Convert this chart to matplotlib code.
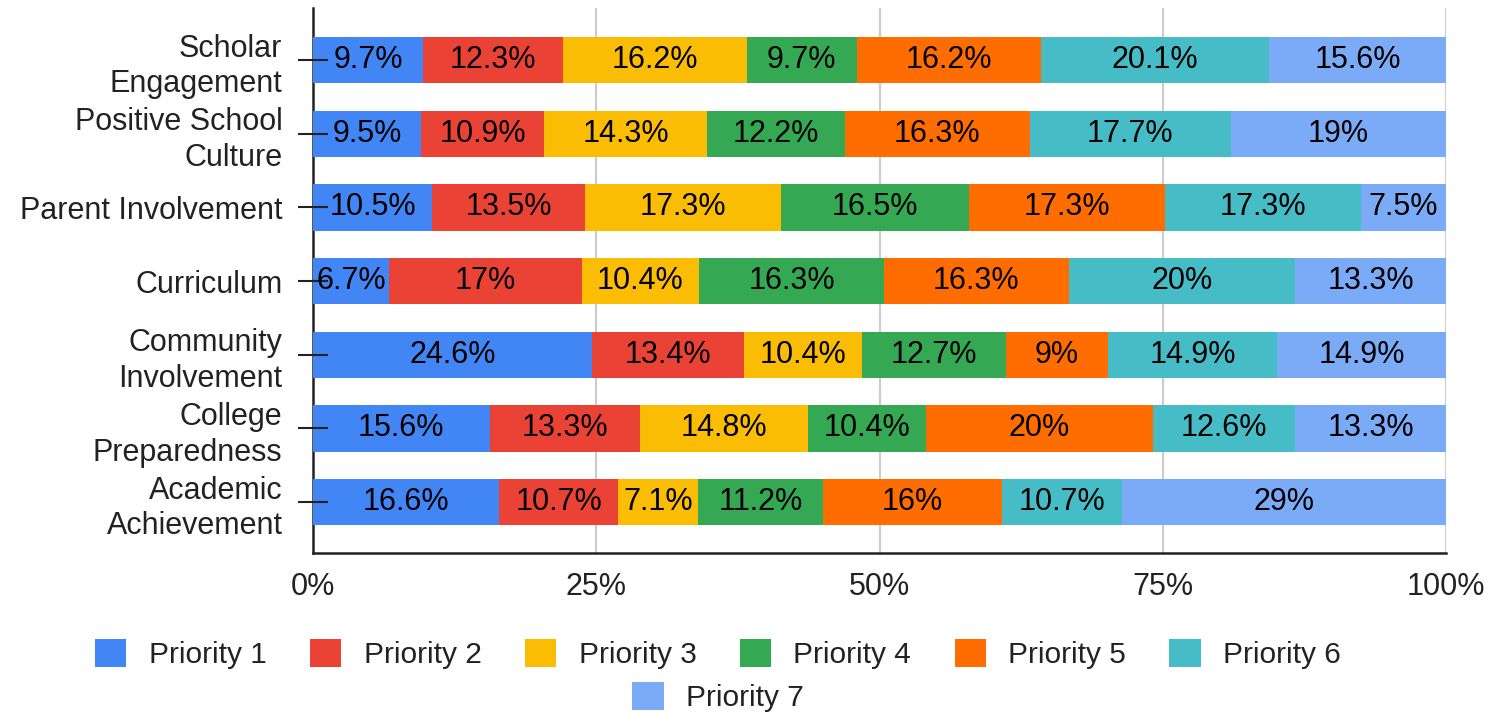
import matplotlib
matplotlib.use("Agg")
import matplotlib.pyplot as plt
import numpy as np

plt.rcParams['font.family'] = ['Liberation Sans', 'DejaVu Sans']

categories = ["Scholar\nEngagement", "Positive School\nCulture", "Parent Involvement",
              "Curriculum", "Community\nInvolvement", "College\nPreparedness",
              "Academic\nAchievement"]
series_names = ["Priority 1", "Priority 2", "Priority 3", "Priority 4",
                "Priority 5", "Priority 6", "Priority 7"]
colors = ["#4285F4", "#EA4335", "#FBBC04", "#34A853", "#FF6D01", "#46BDC6", "#7BAAF7"]

priority1 = [9.7, 9.5, 10.5, 6.7, 24.6, 15.6, 16.6]
priority2 = [12.3, 10.9, 13.5, 17, 13.4, 13.3, 10.7]
priority3 = [16.2, 14.3, 17.3, 10.4, 10.4, 14.8, 7.1]
priority4 = [9.7, 12.2, 16.5, 16.3, 12.7, 10.4, 11.2]
priority5 = [16.2, 16.3, 17.3, 16.3, 9, 20, 16]
priority6 = [20.1, 17.7, 17.3, 20, 14.9, 12.6, 10.7]
priority7 = [15.6, 19, 7.5, 13.3, 14.9, 13.3, 29]
x_ticks = [0, 25, 50, 75, 100]
x_ticklabels = ["0%", "25%", "50%", "75%", "100%"]

series = [priority1, priority2, priority3, priority4, priority5, priority6, priority7]
data = np.array(series, dtype=float)  # shape (7 series, 7 categories)
totals = data.sum(axis=0)
norm = data / totals * 100

fig = plt.figure(figsize=(14.97, 7.14), dpi=100)
ax = fig.add_axes([313/1497, 1 - 553/714, (1446 - 313)/1497, (553 - 8)/714])

n = len(categories)
ypos = np.arange(n)[::-1]  # first category at top
left = np.zeros(n)
handles = []
for i in range(len(series)):
    bars = ax.barh(ypos, norm[i], left=left, height=0.63, color=colors[i],
                   label=series_names[i], zorder=2, linewidth=0)
    handles.append(bars)
    for j in range(n):
        ax.text(left[j] + norm[i][j] / 2, ypos[j], f"{data[i][j]:g}%",
                ha="center", va="center", fontsize=22, color="black", zorder=4)
    left += norm[i]

# vertical gridlines behind bars
for xt in x_ticks[1:]:
    ax.axvline(xt, color="#cccccc", linewidth=1.5, zorder=1)

ax.set_xlim(0, 100)
ax.set_ylim(-0.69, n - 1 + 0.706)
ax.set_xticks(x_ticks)
ax.set_xticklabels(x_ticklabels, fontsize=22, color="#222222")
ax.set_yticks(ypos)
ax.set_yticklabels(categories, fontsize=22, color="#222222", linespacing=1.25)
ax.tick_params(axis="x", length=0, pad=14)
ax.tick_params(axis="y", direction="inout", length=22, width=1.5, color="#222222",
               pad=11)
ax.set_axisbelow(False)  # y tick marks drawn over bars

for s in ["top", "right"]:
    ax.spines[s].set_visible(False)
ax.spines["left"].set_color("#222222")
ax.spines["left"].set_linewidth(1.8)
ax.spines["left"].set_zorder(1.5)
ax.spines["bottom"].set_color("#222222")
ax.spines["bottom"].set_linewidth(1.8)

leg_kw = dict(frameon=False, fontsize=21.5, handlelength=1.05, handleheight=1.05,
              handletextpad=0.75, labelcolor="#222222")
fig.legend(handles[:6], series_names[:6], loc="center", ncol=6,
           bbox_to_anchor=(718/1497, 1 - 654/714), columnspacing=1.45, **leg_kw)
fig.legend(handles[6:], series_names[6:], loc="center", ncol=1,
           bbox_to_anchor=(718/1497, 1 - 697/714), **leg_kw)

fig.savefig("out.png", dpi=100)
